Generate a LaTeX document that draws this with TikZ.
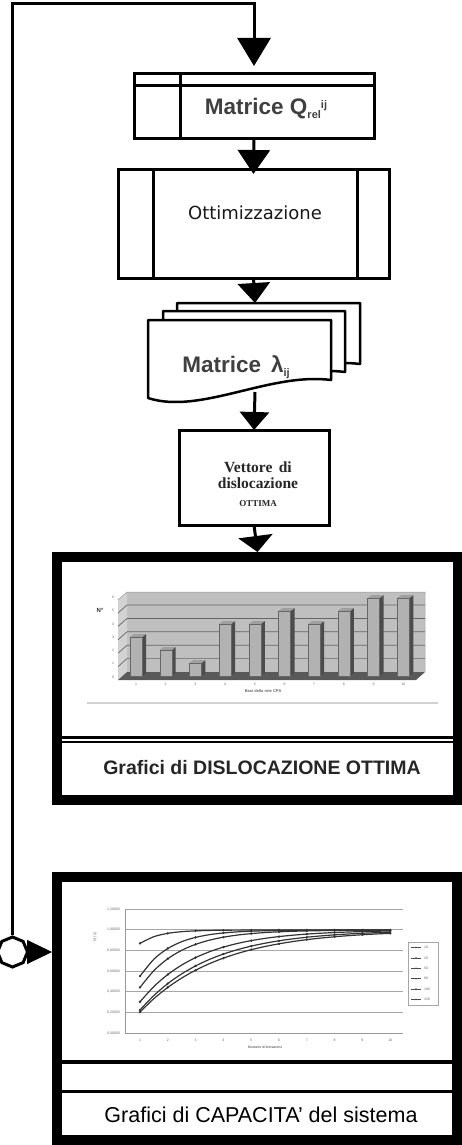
\documentclass[tikz,border=0pt]{standalone}
\usepackage{fontspec}
\setmainfont{Liberation Sans}
\newfontfamily\dejavu{DejaVu Sans}
\newfontfamily\timesfam{Liberation Serif}
\usepackage{tikz}
\usetikzlibrary{arrows.meta,shapes.geometric,calc}

\begin{document}
\begin{tikzpicture}[x=1pt, y=-1pt,
  flow/.style={line width=3pt, -{Triangle[width=32pt,length=#1]}}, flow/.default=24pt,
  box/.style={draw, line width=3pt, fill=white, inner sep=0pt, outer sep=0pt},
  bigbox/.style={draw, line width=10pt, inner sep=0pt},
  sheet/.style={draw, line width=2.5pt, fill=white, line join=round},
  tiny/.style={font=\fontsize{3.5}{4}\selectfont, text=black!60, inner sep=0pt}]
\useasboundingbox (0,0) rectangle (462,1145);

\node[box, minimum width=240pt, minimum height=64pt] (qmat) at (254,106) {};
\draw[line width=3pt] ($(qmat.north west)+(0,12)$) -- ($(qmat.north east)+(0,12)$);
\draw[line width=3pt] ($(qmat.north west)+(46,0)$) -- ($(qmat.south west)+(46,0)$);
\node[font=\fontsize{22.5}{26}\selectfont\bfseries, text=black!75] (qlabel) at (266,109)
  {Matrice Q\raisebox{-4pt}{\fontsize{11}{12}\selectfont rel}\raisebox{6pt}{\fontsize{11}{12}\selectfont ij}};

\node[box, minimum width=271pt, minimum height=109pt] (ottim) at (253.5,223.5) {};
\draw[line width=3pt] ($(ottim.north west)+(35,0)$) -- ($(ottim.south west)+(35,0)$);
\draw[line width=3pt] ($(ottim.north east)+(-32,0)$) -- ($(ottim.south east)+(-32,0)$);
\node[font=\dejavu\fontsize{18}{20}\selectfont, text=black!90] (ottimlabel) at (255,213) {Ottimizzazione};

\draw[sheet] (177,382) -- (177,303) -- (360,303) -- (360,364) .. controls (299,356) and (229,399) .. cycle;
\draw[sheet] (163,390) -- (163,311) -- (345,311) -- (345,372) .. controls (285,364) and (215,407) .. cycle;
\draw[sheet] (148,398) -- (148,320) -- (331,320) -- (331,380) .. controls (270,372) and (200,415) .. cycle;
\node[font=\fontsize{22.5}{26}\selectfont\bfseries, text=black!75] (docs) at (236,367)
  {Matrice \,λ\raisebox{-4pt}{\fontsize{11}{12}\selectfont ij}};
\coordinate (docstop) at (255,303);
\coordinate (docsbot) at (255,392);

\node[box, minimum width=150pt, minimum height=95pt] (vett) at (254,477.5) {};
\node[font=\timesfam\bfseries\fontsize{15.5}{16}\selectfont, align=center, text=black!85] (vettlabel) at (258,484)
  {Vettore \,di\\dislocazione\\[2pt]{\fontsize{9}{10}\selectfont OTTIMA}};

\node[bigbox, minimum width=401pt, minimum height=243pt] (dislo) at (257.5,678.5) {};
\draw[line width=3pt] (62,737) -- (456,737);
\draw[line width=2pt] (62,742) -- (456,742);
\node[font=\fontsize{19.5}{22}\selectfont\bfseries, text=black!85] (dislolabel) at (262,768) {Grafici di DISLOCAZIONE OTTIMA};

\fill[gray!50] (127,592) rectangle (425,672);
\fill[gray!35] (118,600) -- (127,592) -- (127,672) -- (118,680) -- cycle;
\fill[black!65] (118,680) -- (127,672) -- (425,672) -- (416,680) -- cycle;
\foreach \k in {1,...,5}
  \draw[black!60, line width=0.7pt] (118,{680-13.4*\k}) -- (127,{672-13.4*\k}) -- (425,{672-13.4*\k});
\draw[black!40, line width=0.5pt] (118,600) -- (127,592) -- (425,592) -- (425,672);
\foreach \v [count=\i] in {3,2,1,4,4,5,4,5,6,6} {
  \coordinate (b\i) at ({130+(\i-1)*29.7},676);
  \fill[black!70] ($(b\i)+(12,0)$) -- ++(4,-3) -- ++(0,{-13*\v}) -- ++(-4,3) -- cycle;
  \fill[gray!75] ($(b\i)+(0,{-13*\v})$) -- ++(12,0) -- ++(4,-3) -- ++(-12,0) -- cycle;
  \filldraw[fill=gray!60, draw=black!60, line width=0.4pt] (b\i) rectangle ++(12,{-13*\v});
  \node[tiny] at ($(b\i)+(6,8)$) {\i};
}
\foreach \k in {0,...,6}
  \node[tiny] at (113,{677-13.3*\k}) {\k};
\node[font=\fontsize{6}{7}\selectfont\bfseries, text=black!80] (nlabel) at (100,610) {N°};
\node[tiny, font=\fontsize{4}{5}\selectfont\bfseries] (basi) at (263,691) {Basi della rete CPS};
\draw[gray!35, line width=1.5pt] (87,703) -- (438,703);

\node[bigbox, minimum width=400pt, minimum height=263pt] (capac) at (257,1008.5) {};
\draw[line width=4pt] (62,1062) -- (456,1062);
\draw[line width=3pt] (62,1091.5) -- (456,1091.5);
\node[font=\fontsize{21.5}{24}\selectfont, text=black] (capaclabel) at (261,1115) {Grafici di CAPACITA’ del sistema};

\foreach \k in {0,...,5}
  \draw[gray!70, line width=0.8pt] (125,{909+20.7*\k}) -- (403,{909+20.7*\k});
\draw[gray!80, line width=0.8pt] (125,909) -- (125,1033) -- (403,1033);
\foreach \k/\t in {0/{1,20000},1/{1,00000},2/{0,80000},3/{0,60000},4/{0,40000},5/{0,20000},6/{0,00000}}
  \node[tiny, anchor=east] at (120,{909+20.7*\k}) {\t};
\foreach \n in {1,...,10}
  \node[tiny] at ({140+(\n-1)*27.8},1040) {\n};
\node[tiny, font=\fontsize{3.5}{4}\selectfont\bfseries] (iterlabel) at (265,1047) {Numero di iterazioni};
\node[tiny, rotate=90] (qlab) at (95,937) {Qr (i,j)};
\foreach \s/\r in {0.87/0.25, 0.55/0.4, 0.44/0.5, 0.30/0.62, 0.22/0.67, 0.20/0.7} {
  \draw[black!80, line width=1.2pt] plot[smooth, domain=1:10, samples=19]
    ({140+(\x-1)*27.8},{930+(1-\s)*102.5*pow(\r,\x-1)});
  \fill[black!80] plot[only marks, mark=*, mark size=1pt, domain=1:10, samples=10]
    ({140+(\x-1)*27.8},{930+(1-\s)*102.5*pow(\r,\x-1)});
}
\draw[gray!70, line width=0.8pt] (408,942) rectangle (438,1005);
\foreach \t [count=\k from 0] in {10,20,50,80,100,150} {
  \draw[black!70, line width=0.6pt] (411,{947.5+10.4*\k}) -- (421,{947.5+10.4*\k});
  \fill[black!70] (416,{947.5+10.4*\k}) circle (0.9pt);
  \node[tiny, anchor=west] at (424,{947.5+10.4*\k}) {\t};
}

\node[draw, regular polygon, regular polygon sides=8, shape border rotate=22.5, minimum size=30pt, line width=3pt, inner sep=0pt, fill=white] (loop) at (12.5,952) {};

\draw[flow=28pt, -{Triangle[width=33pt,length=28pt]}, shorten >=8pt] (loop.north) |- (qmat.north |- 0,4) -- (qmat.north);
\draw[flow=24pt, shorten >=-5pt] (qmat.south) -- (ottim.north);
\draw[flow=20pt] (ottim.south) -- (docstop);
\draw[flow=18pt, -{Triangle[width=29pt,length=18pt]}] (docsbot) -- (vett.north);
\draw[flow=16pt, -{Triangle[width=34pt,length=16pt]}] (vett.south) -- (dislo.north);
\draw[line width=1pt, -{Triangle[width=24pt,length=25pt]}] (loop.east) -- (loop.east -| capac.west);
\end{tikzpicture}
\end{document}
